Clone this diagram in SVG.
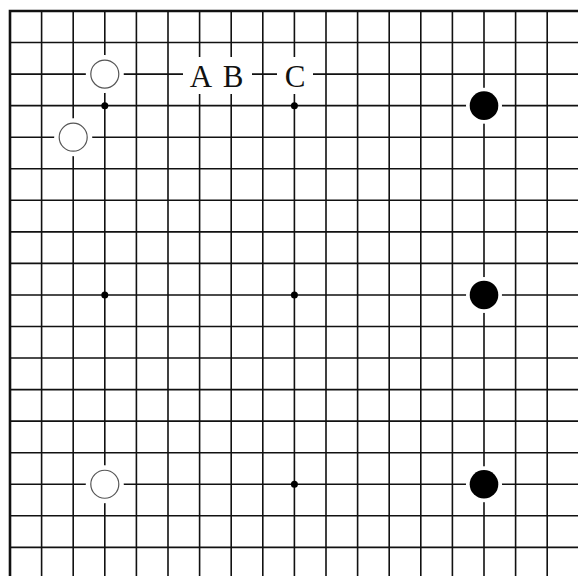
<svg xmlns="http://www.w3.org/2000/svg" width="578" height="576" viewBox="0 0 578 576">
<style>
.grid{stroke:#111;stroke-width:1.6;fill:none}
.border{stroke:#111;stroke-width:2.6;fill:none}
.halo{fill:#fff}
.white{fill:#fff;stroke:#555;stroke-width:1.2}
.black{fill:#000}
.star{fill:#000}
.lbl{font-family:"Liberation Serif","Times New Roman",serif;font-size:31px;fill:#111;text-anchor:middle}
</style>
<rect width="578" height="576" fill="#fff"/>
<g id="connectors">
<path class="grid" d="M41.6,11V576M73.2,11V576M104.8,11V576M136.4,11V576M168,11V576M199.6,11V576M231.2,11V576M262.8,11V576M294.4,11V576M326,11V576M357.6,11V576M389.2,11V576M420.8,11V576M452.4,11V576M484,11V576M515.6,11V576M547.2,11V576
M10,42.55H578M10,74.1H578M10,105.65H578M10,137.2H578M10,168.75H578M10,200.3H578M10,231.85H578M10,263.4H578M10,294.95H578M10,326.5H578M10,358.05H578M10,389.6H578M10,421.15H578M10,452.7H578M10,484.25H578M10,515.8H578M10,547.35H578"/>
<path class="border" d="M10,576V11H578"/>
</g>
<g id="star-points">
<circle class="star" cx="104.8" cy="105.65" r="3.5"/>
<circle class="star" cx="294.4" cy="105.65" r="3.5"/>
<circle class="star" cx="104.8" cy="294.95" r="3.5"/>
<circle class="star" cx="294.4" cy="294.95" r="3.5"/>
<circle class="star" cx="294.4" cy="484.25" r="3.5"/>
</g>
<g id="label-AB">
<rect class="halo" x="183" y="57" width="69" height="37"/>
<text class="lbl" x="201" y="87">A</text>
<text class="lbl" x="233" y="87">B</text>
</g>
<g id="label-C">
<rect class="halo" x="277" y="57" width="36" height="37"/>
<text class="lbl" x="295" y="87">C</text>
</g>
<g id="white-1"><circle class="halo" cx="104.8" cy="74.1" r="19"/><circle class="white" cx="104.8" cy="74.1" r="14"/></g>
<g id="white-2"><circle class="halo" cx="73.2" cy="137.2" r="19"/><circle class="white" cx="73.2" cy="137.2" r="14"/></g>
<g id="white-3"><circle class="halo" cx="104.8" cy="484.25" r="19"/><circle class="white" cx="104.8" cy="484.25" r="14"/></g>
<g id="black-1"><circle class="halo" cx="484" cy="105.65" r="18"/><circle class="black" cx="484" cy="105.65" r="14.3"/></g>
<g id="black-2"><circle class="halo" cx="484" cy="294.95" r="18"/><circle class="black" cx="484" cy="294.95" r="14.3"/></g>
<g id="black-3"><circle class="halo" cx="484" cy="484.25" r="18"/><circle class="black" cx="484" cy="484.25" r="14.3"/></g>
</svg>
